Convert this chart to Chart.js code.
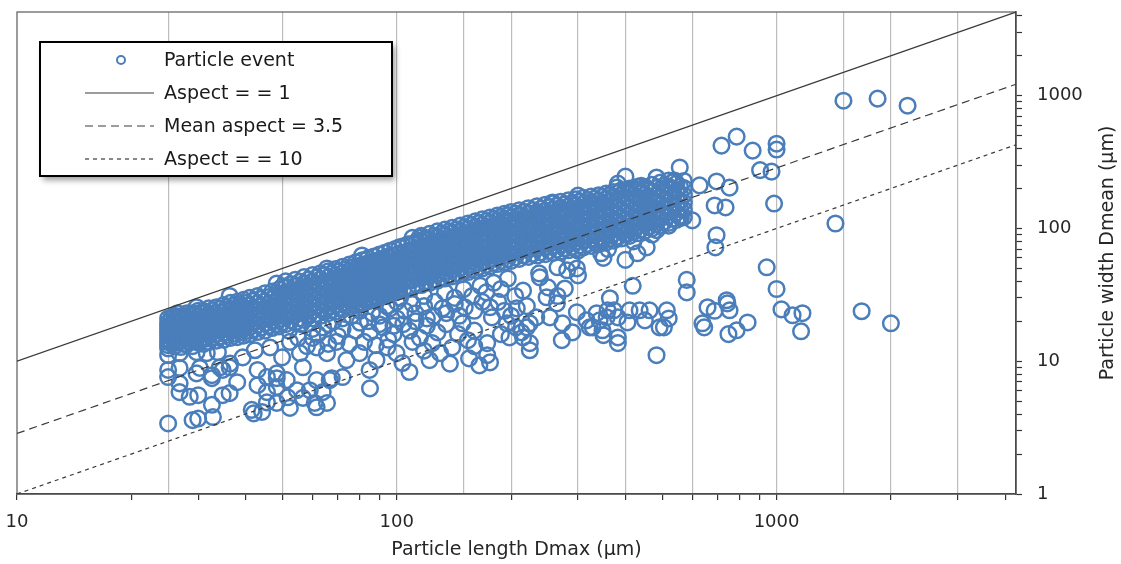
<!DOCTYPE html>
<html>
<head>
<meta charset="utf-8">
<script src="https://cdn.jsdelivr.net/npm/chart.js@4.4.0/dist/chart.umd.min.js"></script>
<style>
  html, body { margin: 0; padding: 0; background: #fff; }
  #wrap { width: 1121px; height: 564px; position: relative; }
</style>
</head>
<body>
<div id="wrap"><canvas id="myChart"></canvas></div>
<script>
// ---- data (length Dmax, width Dmean, µm) ----

// dense band: [length, [widths...]]
const bandColumns = [
  [25, [12.5, 13.2, 14, 14.8, 15.6, 16.5, 17.4, 18.4, 19.5, 21]],
  [26, [13, 14.6, 16.2, 18, 20, 22]],
  [27, [12.8, 14.2, 15.8, 17.6, 19.5, 21.8]],
  [28, [13.4, 15, 16.8, 18.8, 21, 23]],
  [29, [13, 14.5, 16.3, 18.2, 20.4, 23]],
  [30, [13.8, 15.5, 17.4, 19.5, 21.8, 24]],
  [31, [13.5, 15.2, 17, 19, 21.3, 23.8]],
  [32, [14, 15.8, 17.8, 20, 22.5, 25]],
  [33.5, [14.3, 16, 18, 20.3, 22.8, 25.5]],
  [35, [14.5, 16.4, 18.5, 20.8, 23.4, 26.5]],
  [36.5, [15, 17, 19.2, 21.6, 24.4, 27.5]],
  [38, [15.2, 17.2, 19.5, 22, 24.8, 28]],
  [39.5, [15.6, 17.7, 20, 22.6, 25.6, 29]],
  [41, [16, 18.2, 20.6, 23.3, 26.4, 30]],
  [43, [16.6, 18.8, 21.3, 24.2, 27.4, 31]],
  [45, [17, 19.4, 22, 25, 28.3, 32.5]],
  [47, [17.8, 20.2, 23, 26, 29.5, 33.5]],
  [49, [18.3, 20.8, 23.6, 26.8, 30.4, 34.8]],
  [51, [19, 21.6, 24.5, 27.8, 31.6, 36, 40]],
  [54, [19.6, 22.3, 25.4, 28.8, 32.8, 37.2, 41]],
  [57, [20.5, 23.3, 26.5, 30, 34, 38.6, 43]],
  [60, [21, 24, 27.3, 31, 35.2, 40, 44.5]],
  [63, [22, 25, 28.4, 32.3, 36.6, 41.5, 46]],
  [66, [23, 26, 29.5, 33.5, 38, 43, 47.5]],
  [69, [23.6, 26.8, 30.4, 34.5, 39.2, 44.5, 49.5]],
  [72, [24.5, 27.8, 31.6, 35.9, 40.7, 46.2, 51.5]],
  [75, [25.5, 29, 33, 37.4, 42.4, 48, 53.5]],
  [78, [26.3, 29.9, 34, 38.5, 43.7, 49.6, 55.5]],
  [81, [27.2, 30.9, 35, 39.8, 45.2, 51.3, 57.5]],
  [84, [28.2, 32, 36.3, 41.2, 46.8, 53, 59.5]],
  [87, [29, 33, 37.4, 42.5, 48.2, 54.7, 61.5]],
  [90, [30, 34, 38.6, 43.8, 49.7, 56.4, 63.5]],
  [93, [31, 35.2, 40, 45.3, 51.4, 58.3, 65.5]],
  [96, [32, 36.3, 41.2, 46.8, 53, 60.2, 68]],
  [99, [33, 37.5, 42.5, 48.2, 54.7, 62, 70]],
  [104, [34.5, 39.2, 44.5, 50.5, 57.3, 65, 73.5]],
  [110, [36, 40.8, 46.3, 52.5, 59.6, 67.6, 76.5, 85]],
  [116, [37.5, 42.5, 48.2, 54.7, 62, 70.4, 79.8, 88]],
  [122, [39, 44.3, 50.2, 57, 64.6, 73.3, 83, 91]],
  [128, [40.5, 46, 52.2, 59.2, 67.2, 76.2, 86.4, 95]],
  [134, [42, 47.7, 54.1, 61.4, 69.6, 79, 89.6, 98]],
  [140, [43.5, 49.4, 56, 63.5, 72, 81.7, 92.7, 101]],
  [147, [45, 51, 58, 65.8, 74.6, 84.7, 96, 105]],
  [154, [47, 53.3, 60.5, 68.6, 77.8, 88.3, 100, 109]],
  [161, [48.5, 55, 62.4, 70.8, 80.3, 91, 103, 113]],
  [168, [50, 56.7, 64.4, 73, 82.8, 94, 106.5, 117]],
  [176, [52, 59, 67, 76, 86.2, 97.8, 111, 121]],
  [184, [54, 61.3, 69.5, 78.9, 89.5, 101.5, 115, 125]],
  [192, [55.5, 63, 71.5, 81, 92, 104, 118, 129]],
  [200, [57, 64.7, 73.4, 83.3, 94.5, 107, 121.5, 133]],
  [210, [59, 67, 76, 86.2, 97.8, 111, 126, 137]],
  [222, [61, 69.2, 78.5, 89, 101, 114.6, 130, 142]],
  [234, [62.5, 71, 80.5, 91.3, 103.6, 117.5, 133.3, 147]],
  [246, [64, 72.6, 82.4, 93.5, 106, 120.3, 136.5, 151]],
  [258, [65.5, 74.3, 84.3, 95.6, 108.5, 123, 139.6, 155]],
  [270, [67, 76, 86.2, 97.8, 111, 126, 143, 159]],
  [283, [68.5, 77.7, 88.2, 100, 113.5, 128.8, 146, 163]],
  [296, [70, 79.4, 90, 102, 116, 131.6, 149.3, 166]],
  [310, [72, 81.7, 92.7, 105, 119.3, 135.3, 153.5, 170]],
  [325, [74, 84, 95.3, 108, 122.6, 139, 157.8, 174]],
  [340, [76, 86.2, 97.8, 111, 126, 142.8, 162, 178]],
  [356, [78.5, 89, 101, 114.6, 130, 147.5, 167.3, 183]],
  [372, [81, 92, 104.3, 118.3, 134.2, 152.3, 172.8, 188]],
  [390, [84, 95.3, 108, 122.6, 139, 157.8, 179, 194]],
  [410, [88, 99.8, 113.2, 128.4, 145.7, 165.3, 187.5, 200]],
  [430, [92, 104.4, 118.4, 134.3, 152.4, 172.9, 196, 206]],
  [450, [96, 109, 123.6, 140.2, 159, 180.4, 204.6]],
  [470, [100, 113.4, 128.7, 146, 165.6, 187.9, 213]],
  [495, [105, 119, 135, 153, 173.6, 197, 222]],
  [520, [110, 124.8, 141.6, 160.6, 182.2, 206.7, 230]],
  [545, [116, 131.6, 149.3, 169.4, 192.2, 218]],
  [570, [122, 138.4, 157, 178, 202, 228]]
];

// more events in between the band columns
const bandFill = [
  [25.5, [13.6, 15.2, 17, 19, 21.3]],
  [26.5, [13.8, 15.4, 17.2, 19.2, 21.5]],
  [27.5, [13.5, 15.2, 17.1, 19.2, 21.8]],
  [28.5, [14, 15.8, 17.7, 19.9, 22.3]],
  [29.5, [14.2, 16, 18, 20.2, 22.7]],
  [30.5, [14.6, 16.4, 18.4, 20.6, 23.1]],
  [31.5, [14.8, 16.6, 18.7, 21, 23.6]],
  [32.7, [15.1, 17, 19.1, 21.5, 24.2]],
  [34.2, [15.4, 17.3, 19.5, 22, 24.8]],
  [35.7, [15.8, 17.8, 20, 22.6, 25.6]],
  [37.2, [16.1, 18.2, 20.5, 23.2, 26.2]],
  [38.7, [16.5, 18.6, 21, 23.7, 26.8]],
  [40.2, [16.9, 19.1, 21.6, 24.4, 27.6]],
  [42, [17.4, 19.7, 22.3, 25.2, 28.5]],
  [44, [18, 20.3, 23, 26, 29.5]],
  [46, [18.5, 21, 23.8, 26.9, 30.5]],
  [48, [19, 21.6, 24.4, 27.7, 31.5]],
  [50, [19.6, 22.3, 25.2, 28.6, 32.5, 36.5]],
  [52.5, [20.3, 23, 26.1, 29.6, 33.6, 38]],
  [55.5, [21, 23.9, 27.1, 30.8, 35, 39.6]],
  [58.5, [21.8, 24.8, 28.1, 31.9, 36.2, 41.2]],
  [61.5, [22.6, 25.7, 29.2, 33.1, 37.6, 42.7]],
  [64.5, [23.5, 26.7, 30.3, 34.4, 39, 44.3]],
  [67.5, [24.3, 27.6, 31.3, 35.5, 40.3, 45.8]],
  [70.5, [25.2, 28.6, 32.5, 36.9, 41.9, 47.5]],
  [73.5, [26.1, 29.6, 33.6, 38.2, 43.3, 49.2]],
  [76.5, [27, 30.6, 34.7, 39.4, 44.7, 50.8]],
  [79.5, [27.8, 31.6, 35.8, 40.7, 46.2, 52.4]],
  [82.5, [28.7, 32.6, 37, 42, 47.6, 54]],
  [85.5, [29.6, 33.6, 38.1, 43.3, 49.1, 55.7]],
  [88.5, [30.5, 34.6, 39.3, 44.6, 50.6, 57.4]],
  [91.5, [31.4, 35.6, 40.4, 45.9, 52.1, 59.1]],
  [94.5, [32.3, 36.7, 41.6, 47.2, 53.6, 60.8]],
  [97.5, [33.2, 37.7, 42.8, 48.6, 55.1, 62.5]],
  [101.5, [34.5, 39.2, 44.4, 50.4, 57.2, 64.9, 72]],
  [107, [36, 40.8, 46.3, 52.6, 59.7, 67.7, 76]],
  [113, [37.6, 42.7, 48.4, 55, 62.4, 70.8, 80]],
  [119, [39.3, 44.6, 50.6, 57.4, 65.2, 74, 84]],
  [125, [41, 46.5, 52.8, 59.9, 68, 77.2, 87.5]],
  [131, [42.6, 48.4, 54.9, 62.3, 70.7, 80.3, 91]],
  [137, [44.3, 50.2, 57, 64.7, 73.4, 83.3, 94.5]],
  [143.5, [46, 52.2, 59.3, 67.3, 76.3, 86.6, 98]],
  [150.5, [47.8, 54.3, 61.6, 69.9, 79.3, 90, 102]],
  [157.5, [49.6, 56.3, 63.9, 72.5, 82.3, 93.4, 106]],
  [164.5, [51.4, 58.3, 66.2, 75.1, 85.2, 96.7, 109.7]],
  [172, [53.2, 60.4, 68.5, 77.8, 88.3, 100.2, 113.7]],
  [180, [55.1, 62.5, 71, 80.5, 91.4, 103.7, 117.7]],
  [188, [57, 64.7, 73.4, 83.3, 94.5, 107.3, 121.7]],
  [196, [58.8, 66.7, 75.7, 85.9, 97.5, 110.6, 125.5]],
  [205, [60.6, 68.8, 78, 88.6, 100.5, 114, 129.4]],
  [216, [62.6, 71, 80.6, 91.5, 103.8, 117.8, 133.7]],
  [228, [64.4, 73.1, 82.9, 94.1, 106.8, 121.2, 137.5]],
  [240, [66.1, 75, 85.1, 96.6, 109.6, 124.4, 141.1]],
  [252, [67.7, 76.8, 87.2, 98.9, 112.2, 127.4, 144.5]],
  [264, [69.3, 78.6, 89.2, 101.2, 114.9, 130.3, 147.9]],
  [276.5, [70.9, 80.4, 91.3, 103.6, 117.5, 133.4, 151.3]],
  [289.5, [72.6, 82.4, 93.5, 106.1, 120.4, 136.6, 155]],
  [303, [74.5, 84.5, 95.9, 108.8, 123.5, 140.1, 159]],
  [317.5, [76.6, 86.9, 98.6, 111.9, 127, 144.1, 163.5]],
  [332.5, [78.8, 89.4, 101.5, 115.1, 130.6, 148.2, 168.2]],
  [348, [81.2, 92.1, 104.5, 118.6, 134.6, 152.7, 173.3]],
  [364, [83.9, 95.2, 108, 122.6, 139.1, 157.8, 179]],
  [381, [86.8, 98.5, 111.8, 126.8, 143.9, 163.3, 185.3]],
  [400, [90.3, 102.5, 116.3, 132, 149.8, 170, 192.9]],
  [420, [94.2, 106.9, 121.3, 137.6, 156.1, 177.1, 201]],
  [440, [98.3, 111.5, 126.5, 143.5, 162.8, 184.7, 209.5]],
  [460, [102.5, 116.3, 132, 149.8, 170, 192.9]],
  [482, [107.2, 121.6, 138, 156.6, 177.7, 201.6]],
  [507, [112.6, 127.8, 145, 164.5, 186.7, 211.8]],
  [532, [118.4, 134.3, 152.4, 172.9, 196.2, 222.6]],
  [557, [124.6, 141.4, 160.4, 182, 206.5]]
];

// scattered events below the band: [length, width]
const lowerBranch = [
  [25, 3.4], [29, 3.6], [30, 3.7], [32.8, 3.8], [26.8, 5.85], [28.5, 5.4], [30, 5.55], [32.6, 4.7],
  [34.8, 5.55], [38, 6.95], [25, 7.6], [26.8, 6.8], [30.3, 8.9], [32.6, 7.85], [34.2, 9], [36.4, 9.6],
  [43, 6.6], [41.5, 4.3], [42, 4.05], [44.2, 4.15], [45.5, 4.9], [48.3, 4.85], [45.5, 5.85], [48.3, 6.4],
  [48.3, 7.45], [51.6, 5.35], [52.3, 4.45], [60.8, 4.85], [56.6, 5.3], [54.6, 6.05], [59, 6.05], [63.8, 5.85],
  [67.4, 7.45], [61.5, 4.5], [85, 6.25], [65.5, 4.85],
  [25, 11.1], [26.8, 11.5], [29.7, 11.7], [31.6, 11.5], [33.8, 11.7], [25, 8.6], [26.8, 8.9], [29.7, 8.1],
  [32.6, 7.45], [34.8, 8.6], [36.3, 9], [39.3, 10.7], [42.3, 12.1], [46.4, 12.7], [49.9, 10.7], [52.3, 14],
  [55.6, 11.5], [56.6, 9], [61.5, 12.7], [65.5, 11.5], [69.4, 14], [73.7, 10.2], [79.8, 11.5], [84.8, 8.6],
  [88.4, 10.2], [94.4, 12.7], [99.8, 11.5], [103.5, 9.7], [48.3, 8.1], [51.3, 7.2], [36.3, 5.75], [61.5, 7.2],
  [66.6, 7.2], [72, 7.6], [43, 8.6], [45.5, 7.6],
  [55, 15], [62, 16], [70, 15.5], [78, 17], [85, 16.5], [92, 18], [98, 16], [75, 13.5],
  [82, 14], [66, 13.5], [58, 13], [88, 13.2], [95, 14.5], [52, 17], [56, 19], [60, 15],
  [64, 18], [68, 20], [72, 17.5], [76, 22], [80, 19.5], [86, 23], [90, 19], [94, 26], [98, 18.5],
  [100, 28], [105, 24], [112, 20], [118, 26], [125, 22], [108, 17], [115, 15], [120, 18.5],
  [128, 16.5], [135, 19], [142, 27], [100, 21], [96, 25], [90, 22], [84, 20], [80, 24],
  [72, 21], [66, 19], [60, 17.5],
  [102, 30], [110, 27], [118, 31], [126, 28], [134, 33], [142, 30], [150, 35], [158, 31],
  [166, 37], [172, 33], [180, 39], [188, 35], [196, 42], [104, 19], [112, 23], [120, 21],
  [132, 25], [146, 22], [160, 24], [168, 28], [185, 28], [192, 24], [145, 16], [160, 17],
  [188, 16], [200, 22], [206, 18], [160, 13], [118, 12], [110, 14],
  [238, 42.8], [250, 36], [265, 51], [277, 35.3], [289, 55.5], [300, 44.3], [298, 50], [418, 37],
  [264, 27.3], [253, 21.4], [272, 14.4], [290, 16.5], [224, 12.1], [215, 15.1], [224, 19.3], [233, 21.4],
  [207, 25], [220, 26], [215, 34], [205, 31], [176, 25.5], [178, 21.4], [173, 13.7], [173, 11.1],
  [165, 9.3], [176, 9.8], [155, 10.5], [154, 14.4], [138, 9.6], [130, 11.5], [122, 10.2], [108, 8.3],
  [140, 12.7], [124, 13.7], [135, 23], [151, 25.5], [149, 19.3], [195, 19.3], [198, 15.1], [213, 16.5],
  [220, 18], [224, 13.7], [248, 30.3], [265, 31], [298, 23.4], [316, 20.3], [336, 23], [348, 17.1],
  [364, 29.8], [357, 21.4], [382, 15.1], [322, 18], [273, 19.3], [237, 45.9], [281, 48.4], [300, 68],
  [373, 24.2], [405, 19.6], [328, 18], [350, 15.7],
  [382, 13.7], [483, 11.1], [463, 24.2], [514, 24.2], [520, 21], [492, 18], [505, 18], [450, 20.3],
  [436, 24.2], [359, 24.2], [382, 21.4], [342, 20.3], [410, 24.2], [580, 41], [580, 33], [658, 25.5],
  [739, 28.8], [752, 24.2], [742, 27.3], [687, 24], [638, 19.3], [645, 18], [839, 19.6], [785, 17.1],
  [747, 16], [420, 80], [470, 90], [520, 105], [440, 110], [500, 130], [560, 120], [380, 85],
  [360, 70], [430, 65], [350, 60], [400, 58], [390, 100], [460, 140], [405, 91], [345, 65]
];

// sparse events above the band
const upperEdge = [
  [26.5, 23], [29.7, 25.5], [36.3, 31], [48.3, 38.5], [65.5, 50], [81, 62.6], [114.6, 85]
];

// large particles on the right
const largeParticles = [
  [1500, 917], [1845, 950], [2213, 841], [1000, 435], [1000, 393], [970, 268], [905, 275], [985, 154],
  [1429, 109], [716, 421], [785, 492], [865, 386], [556, 288], [483, 242], [539, 230], [400, 246],
  [627, 211], [695, 226], [752, 203], [687, 149], [734, 144], [600, 115], [695, 89], [690, 72],
  [455, 72], [483, 97], [380, 203], [444, 187], [300, 177], [328, 154], [257, 157], [382, 218],
  [942, 51], [1000, 35], [1030, 24.6], [1102, 22.2], [1170, 23], [1160, 16.8], [1675, 23.8], [2000, 19.3]
];

// reference lines width = length / aspect
const lineEnds = [10, 4270];
const aspectRatios = [1, 3.5, 10];
const aspectLabels = ['Aspect = = 1', 'Mean aspect = 3.5', 'Aspect = = 10'];
const aspectDashes = [[], [8, 5], [4, 4]];

// axes
const axisMin = { x: 10, y: 1 };
const axisMax = 4270;
const xTickMarks = [10, 20, 30, 40, 50, 60, 70, 80, 90, 100, 200, 300, 400, 500, 600, 700, 800, 900, 1000, 2000, 3000, 4000];
const xGridLines = [25, 50, 100, 150, 200, 300, 400, 600, 1000, 1500, 2000, 3000];
const yTickMarks = [1, 2, 3, 4, 5, 6, 7, 8, 9, 10, 20, 30, 40, 50, 60, 70, 80, 90, 100, 200, 300, 400, 500, 600, 700, 800, 900, 1000, 2000, 3000, 4000];
const labelledTicks = [1, 10, 100, 1000];

const FONT = 'DejaVu Sans';
const BLUE = '#4a7ebb';
const LINE = '#3a3a3a';

let particlePoints = [];
bandColumns.concat(bandFill).forEach(([len, widths]) => {
    widths.forEach(w => particlePoints.push({ x: len, y: w }));
});
lowerBranch.concat(upperEdge, largeParticles).forEach(([len, w]) => {
    particlePoints.push({ x: len, y: w });
});

let lineSets = aspectRatios.map((a, i) => ({
    label: aspectLabels[i],
    data: lineEnds.map(x => ({ x: x, y: x / a })),
    showLine: true,
    borderColor: LINE,
    borderWidth: 1.2,
    borderDash: aspectDashes[i],
    pointRadius: 0,
    order: 0
}));

// plot frame (top / left edges)
const framePlugin = {
    id: 'frame',
    beforeDatasetsDraw(chart) {
        let a = chart.chartArea, ctx = chart.ctx;
        ctx.save();
        ctx.strokeStyle = '#5a5a5a';
        ctx.lineWidth = 1.2;
        ctx.strokeRect(a.left, a.top, a.right - a.left, a.bottom - a.top);
        ctx.restore();
    }
};

// right axis title, reading bottom to top
const yTitlePlugin = {
    id: 'yTitle',
    afterDraw(chart) {
        let a = chart.chartArea, ctx = chart.ctx;
        ctx.save();
        ctx.translate(1108, (a.top + a.bottom) / 2);
        ctx.rotate(-Math.PI / 2);
        ctx.font = '19px "' + FONT + '"';
        ctx.fillStyle = '#262626';
        ctx.textAlign = 'center';
        ctx.textBaseline = 'middle';
        ctx.fillText('Particle width Dmean (µm)', 0, 0);
        ctx.restore();
    }
};

// boxed legend inside the plot
const legendPlugin = {
    id: 'boxLegend',
    afterDraw(chart) {
        let a = chart.chartArea, ctx = chart.ctx;
        let left = a.left + 23, top = a.top + 30, w = 352, h = 134;
        ctx.save();
        ctx.shadowColor = 'rgba(0,0,0,0.4)';
        ctx.shadowBlur = 6;
        ctx.shadowOffsetX = 3;
        ctx.shadowOffsetY = 4;
        ctx.fillStyle = '#fff';
        ctx.fillRect(left, top, w, h);
        ctx.shadowColor = 'transparent';
        ctx.strokeStyle = '#000';
        ctx.lineWidth = 2;
        ctx.strokeRect(left, top, w, h);

        let sets = chart.data.datasets;
        let order = [sets.length - 1].concat(sets.map((d, i) => i).slice(0, sets.length - 1));
        ctx.font = '19px "' + FONT + '"';
        ctx.textBaseline = 'middle';
        order.forEach((di, row) => {
            let ds = sets[di];
            let y = top + 18 + row * 33;
            if (di === sets.length - 1) {
                ctx.beginPath();
                ctx.arc(left + 81, y, 4, 0, Math.PI * 2);
                ctx.strokeStyle = BLUE;
                ctx.lineWidth = 2;
                ctx.setLineDash([]);
                ctx.stroke();
            } else {
                ctx.beginPath();
                ctx.moveTo(left + 45, y);
                ctx.lineTo(left + 114, y);
                ctx.strokeStyle = LINE;
                ctx.lineWidth = 1.2;
                ctx.setLineDash(ds.borderDash);
                ctx.stroke();
                ctx.setLineDash([]);
            }
            ctx.fillStyle = '#1a1a1a';
            ctx.fillText(ds.label, left + 124, y + 1);
        });
        ctx.restore();
    }
};

let tickLabel = (v) => labelledTicks.includes(v) ? String(v) : '';

let noPadding = (scale) => {
    scale.paddingTop = 0;
    scale.paddingBottom = 0;
    scale.paddingLeft = 0;
    scale.paddingRight = 0;
};

window.onload = () => {
    let ctx = document.getElementById('myChart').getContext('2d');
    new Chart(ctx, {
        type: 'scatter',
        data: {
            datasets: lineSets.concat([{
                label: 'Particle event',
                data: particlePoints,
                pointStyle: 'circle',
                pointRadius: 7.8,
                pointBorderWidth: 2.5,
                pointBorderColor: BLUE,
                pointBackgroundColor: 'rgba(0,0,0,0)',
                borderColor: BLUE,
                backgroundColor: 'rgba(0,0,0,0)',
                order: 1
            }])
        },
        options: {
            responsive: true,
            maintainAspectRatio: false,
            animation: false,
            layout: { padding: { left: 17, top: 12, right: 0, bottom: 0 } },
            plugins: {
                legend: { display: false },
                tooltip: { enabled: false }
            },
            scales: {
                x: {
                    type: 'logarithmic',
                    position: 'bottom',
                    min: axisMin.x,
                    max: axisMax,
                    afterBuildTicks: (scale) => {
                        let vals = Array.from(new Set(xTickMarks.concat(xGridLines))).sort((p, q) => p - q);
                        scale.ticks = vals.map(v => ({ value: v }));
                    },
                    afterFit: (scale) => { scale.height = 70; noPadding(scale); },
                    ticks: {
                        autoSkip: false,
                        maxRotation: 0,
                        padding: 12,
                        color: '#262626',
                        font: { family: FONT, size: 18 },
                        callback: tickLabel
                    },
                    grid: {
                        color: (c) => (c.tick && xGridLines.includes(c.tick.value)) ? '#bdbdbd' : 'rgba(0,0,0,0)',
                        lineWidth: 1.2,
                        tickLength: 6,
                        tickColor: (c) => (c.tick && xTickMarks.includes(c.tick.value)) ? '#333' : 'rgba(0,0,0,0)',
                        tickWidth: 1.2
                    },
                    border: { display: true, color: '#333', width: 1.5 },
                    title: {
                        display: true,
                        text: 'Particle length Dmax (µm)',
                        color: '#262626',
                        font: { family: FONT, size: 19 },
                        padding: { top: 2, bottom: 3 }
                    }
                },
                y: {
                    type: 'logarithmic',
                    position: 'right',
                    min: axisMin.y,
                    max: axisMax,
                    afterBuildTicks: (scale) => {
                        scale.ticks = yTickMarks.map(v => ({ value: v }));
                    },
                    afterFit: (scale) => { scale.width = 105; noPadding(scale); },
                    ticks: {
                        autoSkip: false,
                        padding: 15,
                        color: '#262626',
                        font: { family: FONT, size: 18 },
                        callback: tickLabel
                    },
                    grid: {
                        drawOnChartArea: false,
                        tickLength: 6,
                        tickColor: '#333',
                        tickWidth: 1.2
                    },
                    border: { display: true, color: '#333', width: 1.5 }
                }
            }
        },
        plugins: [framePlugin, yTitlePlugin, legendPlugin]
    });
};
</script>
</body>
</html>
